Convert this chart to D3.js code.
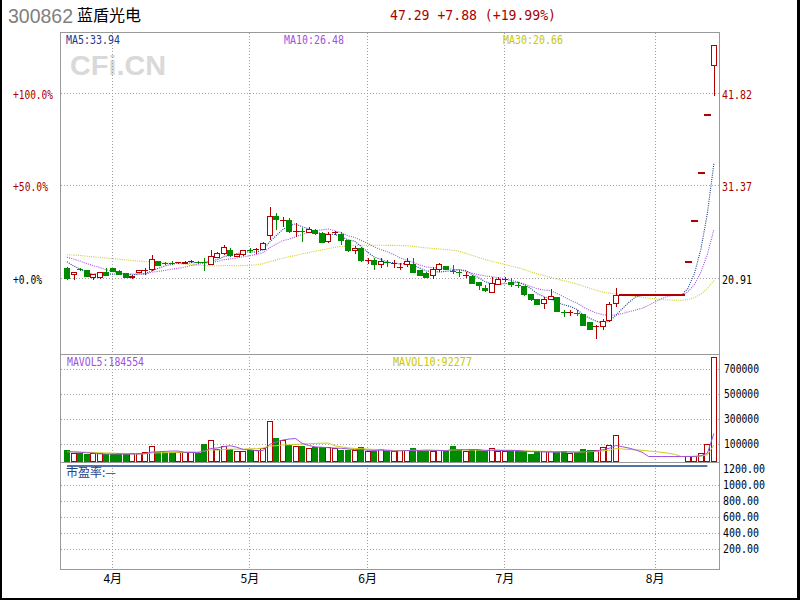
<!DOCTYPE html>
<html><head><meta charset="utf-8">
<script src="https://cdn.jsdelivr.net/npm/d3@7"></script>
<style>body{margin:0;background:#fff}svg{display:block}</style>
</head><body>
<svg id="c" width="800" height="600"></svg>
<script>
// ---------------- data ----------------
const stockCode = "300862";
const stockName = "蓝盾光电";
const headerQuote = "47.29 +7.88 (+19.99%)";
const maLabels = ["MA5:33.94", "MA10:26.48", "MA30:20.66"];
const mavolLabels = ["MAVOL5:184554", "MAVOL10:92277"];
const peLabel = "市盈率:—";

const opens = [22.06,21.38,22.00,21.76,21.05,21.05,21.57,22.00,21.68,21.42,
21.00,21.61,21.68,21.95,22.85,22.65,22.68,22.60,22.55,22.75,
22.76,22.72,22.51,23.31,23.76,24.13,23.37,23.57,24.15,24.10,
24.21,25.79,27.97,27.50,27.52,26.18,26.25,26.13,26.39,26.02,
25.07,26.02,25.90,25.15,24.02,24.32,22.89,22.92,22.51,22.72,
22.60,22.15,22.51,22.44,21.76,21.50,21.23,21.95,22.24,21.80,
21.60,21.16,21.11,20.44,19.80,19.30,20.25,20.82,20.48,20.20,
19.98,19.12,18.48,18.03,18.59,18.74,17.20,17.05,17.05,16.86,
15.90,15.42,15.46,16.14,18.03,19.01,19.01,19.01,19.01,19.01,
19.01,19.01,19.01,19.01,19.01,22.81,27.37,32.84,39.41,45.00];
const highs = [22.24,21.70,22.13,21.87,21.38,21.68,22.06,22.06,21.87,21.50,
21.30,21.87,22.06,23.57,22.92,22.78,22.92,22.80,22.85,23.00,
22.92,23.19,24.13,23.94,24.70,24.32,23.70,24.13,24.39,24.39,
25.07,29.03,28.28,27.83,27.71,27.15,26.58,26.77,26.50,26.13,
26.20,26.30,26.20,25.26,24.62,24.50,23.26,23.19,23.26,23.00,
23.00,22.63,23.19,23.19,21.87,21.60,22.24,22.63,22.30,22.44,
21.87,21.68,21.30,20.55,20.18,21.11,21.11,21.11,21.00,20.48,
20.10,19.20,18.60,18.85,19.72,18.80,17.35,17.35,17.35,16.95,
16.00,15.65,16.33,18.22,19.84,19.01,19.01,19.01,19.01,19.01,
19.01,19.01,19.01,19.01,19.01,22.81,27.37,32.84,39.41,47.29];
const lows = [20.74,20.74,21.76,21.05,20.74,20.82,21.19,21.61,21.30,20.96,
20.82,21.57,21.30,21.79,22.32,22.40,22.44,22.55,22.50,22.62,
22.55,21.79,22.44,23.19,23.57,23.37,23.30,23.45,23.83,23.68,
24.13,25.26,26.39,26.77,26.02,25.63,25.07,26.02,25.85,24.89,
24.89,25.85,24.70,23.94,23.64,22.74,22.51,21.87,22.06,22.24,
22.06,21.87,22.24,21.50,21.15,20.93,20.85,21.68,21.90,21.38,
21.11,20.93,20.30,19.61,19.42,19.24,20.18,20.48,19.98,19.87,
18.97,18.40,17.90,17.46,18.48,17.10,16.59,16.70,16.70,15.55,
15.10,14.04,15.09,16.03,17.72,19.01,19.01,19.01,19.01,19.01,
19.01,19.01,19.01,19.01,19.01,22.81,27.37,32.84,39.41,41.50];
const closes = [20.91,21.64,21.90,21.11,21.34,21.57,21.27,21.68,21.38,21.05,
21.19,21.80,21.80,23.08,22.40,22.60,22.62,22.68,22.77,22.78,
22.72,22.68,23.37,23.68,24.44,23.49,23.64,24.02,24.10,24.15,
24.89,27.97,27.60,27.52,26.20,26.20,26.20,26.50,25.94,25.00,
25.90,26.10,25.26,24.13,24.32,22.89,22.92,22.44,22.81,22.68,
22.63,22.18,22.81,21.57,21.23,21.00,21.95,22.44,21.98,21.74,
21.55,21.20,20.37,20.10,19.53,20.37,20.85,20.85,20.18,20.16,
19.05,18.48,18.00,18.59,18.85,17.16,17.10,17.10,16.98,15.65,
15.20,15.46,16.10,17.99,19.01,19.01,19.01,19.01,19.01,19.01,
19.01,19.01,19.01,19.01,19.01,22.81,27.37,32.84,39.41,47.29];
const volumes = [52000,25300,20500,19800,20200,21000,20000,19500,20300,19800,
20500,21000,33300,84000,33000,34000,33300,32500,33800,33000,
20500,100000,132000,57300,84000,57300,38600,39000,52000,46600,
65300,276000,142600,126600,89300,84000,78600,62600,70600,73300,
68000,62600,52000,46600,47000,68000,41300,38600,57300,38600,
39000,52000,50000,65300,38700,52000,44000,44500,52000,84000,
52000,38700,52500,51500,38700,65300,38700,39000,52000,44000,
38700,20000,38700,39000,38500,38700,39000,25300,33300,60000,
52000,52000,73300,92000,172000,0,0,0,0,0,
0,0,0,0,0,2000,2000,25770,100000,793000];
// closes / volumes of the days just before the visible window (feed the moving averages)
const priorCloses = [23.0,23.2,23.5,23.3,23.6,23.4,23.8,23.5,23.3,23.6,23.5,23.6,23.5,
24.0,24.5,24.3,24.6,24.2,24.4,24.2,
23.5,24.2,24.0,23.6,23.7,
24.0,23.6,23.2,22.3];
const priorVolumes = [36000,42000,31000,38000,45000,33000,36000,40000,31000];

const monthTicks = [{label:"4月", index:7},{label:"5月", index:28},{label:"6月", index:46},{label:"7月", index:67},{label:"8月", index:90}];
const pctTicks = [0, 50, 100];
const pctTickLabels = ["+0.0%", "+50.0%", "+100.0%"];
const volTicks = [100000, 300000, 500000, 700000];
const peTicks = [200, 400, 600, 800, 1000, 1200];
const peSeries = [{index:0, value:1237}, {index:98, value:1237}];

// ---------------- layout ----------------
const svg = d3.select("#c");
const L = 60.5, R = 719.5, T = 32.5, VT = 354.5, PT = 462.5, B = 569.5;
const RED = "#b00000", GREEN = "#008a00", DRED = "#aa0000";
const C_MA5 = "#1a3c8c", C_MA10 = "#a050e0", C_MA30 = "#cccc22";
const MONO = "'DejaVu Sans Mono', monospace";
const CJK = "'Noto Sans CJK SC', sans-serif";
const n = closes.length;

const x = d3.scaleBand().domain(d3.range(n)).range([63.7, 717.2]);
const cx = i => x(i) + x.bandwidth() / 2;
const base = closes[0];
const yP = d3.scaleLinear().domain([base, base * 2]).range([278.5, 93.5]);
const yV = d3.scaleLinear().domain([0, 700000]).range([456.5, 369]);
const yPE = d3.scaleLinear().domain([200, 1000]).range([549, 485]);
const crisp = v => Math.round(v - 0.5) + 0.5;

const defs = svg.append("defs");
defs.append("clipPath").attr("id","clipP").append("rect").attr("x",61).attr("y",33).attr("width",658).attr("height",321);
defs.append("clipPath").attr("id","clipV").append("rect").attr("x",61).attr("y",355).attr("width",658).attr("height",107);

svg.append("rect").attr("width",800).attr("height",600).attr("fill","#fff");

function text(s, x0, y0, o) {
  const t = svg.append("text").attr("x", x0).attr("y", y0).text(s)
    .attr("font-family", o.font || MONO).attr("font-size", o.size || 12)
    .attr("fill", o.fill || "#000");
  if (o.len) t.attr("textLength", o.len).attr("lengthAdjust", "spacingAndGlyphs");
  if (o.anchor) t.attr("text-anchor", o.anchor);
  if (o.weight) t.attr("font-weight", o.weight);
  return t;
}

// watermark
text("CFi.CN", 70, 75, {font:"'Liberation Sans', Arial, sans-serif", size:28, weight:"bold", fill:"#d9d9d9", len:96});

// ---------------- grid ----------------
const grid = svg.append("g").attr("stroke", "#a0a0a0").attr("stroke-width", 1).attr("stroke-dasharray", "1,2").attr("shape-rendering","crispEdges");
monthTicks.forEach(m => {
  const gx = crisp(cx(m.index));
  grid.append("line").attr("x1", gx).attr("x2", gx).attr("y1", T).attr("y2", B);
});
pctTicks.forEach(p => {
  const gy = crisp(yP(base * (1 + p / 100)));
  grid.append("line").attr("x1", L).attr("x2", R).attr("y1", gy).attr("y2", gy);
});
volTicks.forEach(v => {
  const gy = crisp(yV(v));
  grid.append("line").attr("x1", L).attr("x2", R).attr("y1", gy).attr("y2", gy);
});
peTicks.filter(v => v <= 1000).forEach(v => {
  const gy = crisp(yPE(v));
  grid.append("line").attr("x1", L).attr("x2", R).attr("y1", gy).attr("y2", gy);
});

// ---------------- moving averages ----------------
function movAvg(prior, arr, len) {
  const all = prior.concat(arr), off = prior.length;
  return arr.map((_, i) => d3.mean(all.slice(i + off - len + 1, i + off + 1)));
}
const ma5 = movAvg(priorCloses, closes, 5);
const ma10 = movAvg(priorCloses, closes, 10);
const ma30 = movAvg(priorCloses, closes, 30);
const mv5 = movAvg(priorVolumes, volumes, 5);
const mv10 = movAvg(priorVolumes, volumes, 10);

const pg = svg.append("g").attr("clip-path", "url(#clipP)");
const lineP = d3.line().x((d, i) => cx(i)).y(d => yP(d));
[[ma30, C_MA30], [ma10, C_MA10], [ma5, C_MA5]].forEach(([s, c]) => {
  pg.append("path").attr("d", lineP(s)).attr("fill", "none").attr("stroke", c)
    .attr("stroke-width", 1.1).attr("stroke-dasharray", "1,1.2");
});

// ---------------- candles ----------------
const cg = pg.append("g").attr("shape-rendering", "crispEdges");
d3.range(n).forEach(i => {
  const c = Math.round(cx(i));
  const isUp = closes[i] >= opens[i];
  const col = isUp ? RED : GREEN;
  const yo = yP(opens[i]), yc = yP(closes[i]);
  if (highs[i] === lows[i]) {
    cg.append("rect").attr("x", c - 3).attr("width", 7).attr("y", Math.round(yc) - 1).attr("height", 2).attr("fill", col);
    return;
  }
  cg.append("line").attr("x1", c + 0.5).attr("x2", c + 0.5)
    .attr("y1", yP(highs[i])).attr("y2", yP(lows[i])).attr("stroke", col);
  const top = Math.min(yo, yc), bot = Math.max(yo, yc);
  if (bot - top < 1.2) {
    const yy = crisp(yc);
    cg.append("line").attr("x1", c - 3).attr("x2", c + 3).attr("y1", yy).attr("y2", yy).attr("stroke", col);
  } else {
    const t0 = crisp(top), b0 = crisp(bot);
    cg.append("rect").attr("x", c - 2.5).attr("width", 5).attr("y", t0).attr("height", Math.max(1, b0 - t0))
      .attr("fill", isUp ? "#fff" : GREEN).attr("stroke", col);
  }
});

// ---------------- volume ----------------
const vg = svg.append("g").attr("clip-path", "url(#clipV)");
const vb = vg.append("g").attr("shape-rendering", "crispEdges");
d3.range(n).forEach(i => {
  if (volumes[i] <= 0) return;
  const c = Math.round(cx(i));
  const isUp = closes[i] >= opens[i];
  const t0 = crisp(yV(volumes[i]));
  vb.append("rect").attr("x", c - 2.5).attr("width", 5).attr("y", t0).attr("height", 461.5 - t0)
    .attr("fill", isUp ? "#fff" : GREEN).attr("stroke", isUp ? RED : GREEN);
});
const lineV = d3.line().x((d, i) => cx(i)).y(d => yV(d));
vg.append("path").attr("d", lineV(mv10)).attr("fill", "none").attr("stroke", C_MA30).attr("stroke-width", 1);
vg.append("path").attr("d", lineV(mv5)).attr("fill", "none").attr("stroke", C_MA10).attr("stroke-width", 1);

// ---------------- PE panel ----------------
const linePE = d3.line().x(d => cx(d.index)).y(d => yPE(d.value));
svg.append("path").attr("d", linePE(peSeries)).attr("fill", "none").attr("stroke", "#1f4488").attr("stroke-width", 1.5);

// ---------------- borders ----------------
const bd = svg.append("g").attr("stroke", "#999").attr("fill", "none").attr("shape-rendering", "crispEdges");
bd.append("rect").attr("x", L).attr("y", T).attr("width", R - L).attr("height", B - T);
[VT, PT].forEach(yy => bd.append("line").attr("x1", L).attr("x2", R).attr("y1", yy).attr("y2", yy));

// outer frame
const fr = svg.append("g").attr("fill", "#000");
fr.append("rect").attr("x", 0).attr("y", 0).attr("width", 2).attr("height", 600);
fr.append("rect").attr("x", 797).attr("y", 0).attr("width", 3).attr("height", 600);
fr.append("rect").attr("x", 0).attr("y", 598).attr("width", 800).attr("height", 2);

// ---------------- texts ----------------
text(stockCode, 8, 23, {font:"'Liberation Sans', Arial, sans-serif", size:20, fill:"#808080", len:65});
text(stockName, 77, 21, {font:CJK, size:16, fill:"#000"});
text(headerQuote, 390, 20, {size:14, fill:DRED, len:166});

text(maLabels[0], 66, 44, {size:12, fill:C_MA5, len:54});
text(maLabels[1], 284, 44, {size:12, fill:C_MA10, len:60});
text(maLabels[2], 503, 44, {size:12, fill:"#c8c800", len:60});

const pctLens = [29, 35, 40];
pctTicks.forEach((p, k) => {
  const gy = yP(base * (1 + p / 100));
  text(pctTickLabels[k], 13, gy + 5, {size:12, fill: p === 0 ? "#000" : DRED, len: pctLens[k]});
  const price = base * (1 + p / 100);
  text(d3.format(".2f")(price), 722, gy + 5, {size:12, fill: p === 0 ? "#000" : DRED, len:30});
});

volTicks.forEach(v => {
  text(String(v), 724, yV(v) + 3.5, {size:12, fill:"#000", len:35});
});
text(mavolLabels[0], 67, 366, {size:12, fill:C_MA10, len:77});
text(mavolLabels[1], 393, 366, {size:12, fill:"#c8c800", len:79});

peTicks.forEach(v => {
  const s = d3.format(".2f")(v);
  text(s, 723, yPE(v) + 3.5, {size:12, fill:"#000", len: s.length * 6});
});
text(peLabel, 66, 477, {font:CJK, size:12, fill:"#1f4488"});

monthTicks.forEach(m => {
  text(m.label, cx(m.index), 583, {font:CJK, size:12, fill:"#000", anchor:"middle"});
});
</script>
</body></html>
